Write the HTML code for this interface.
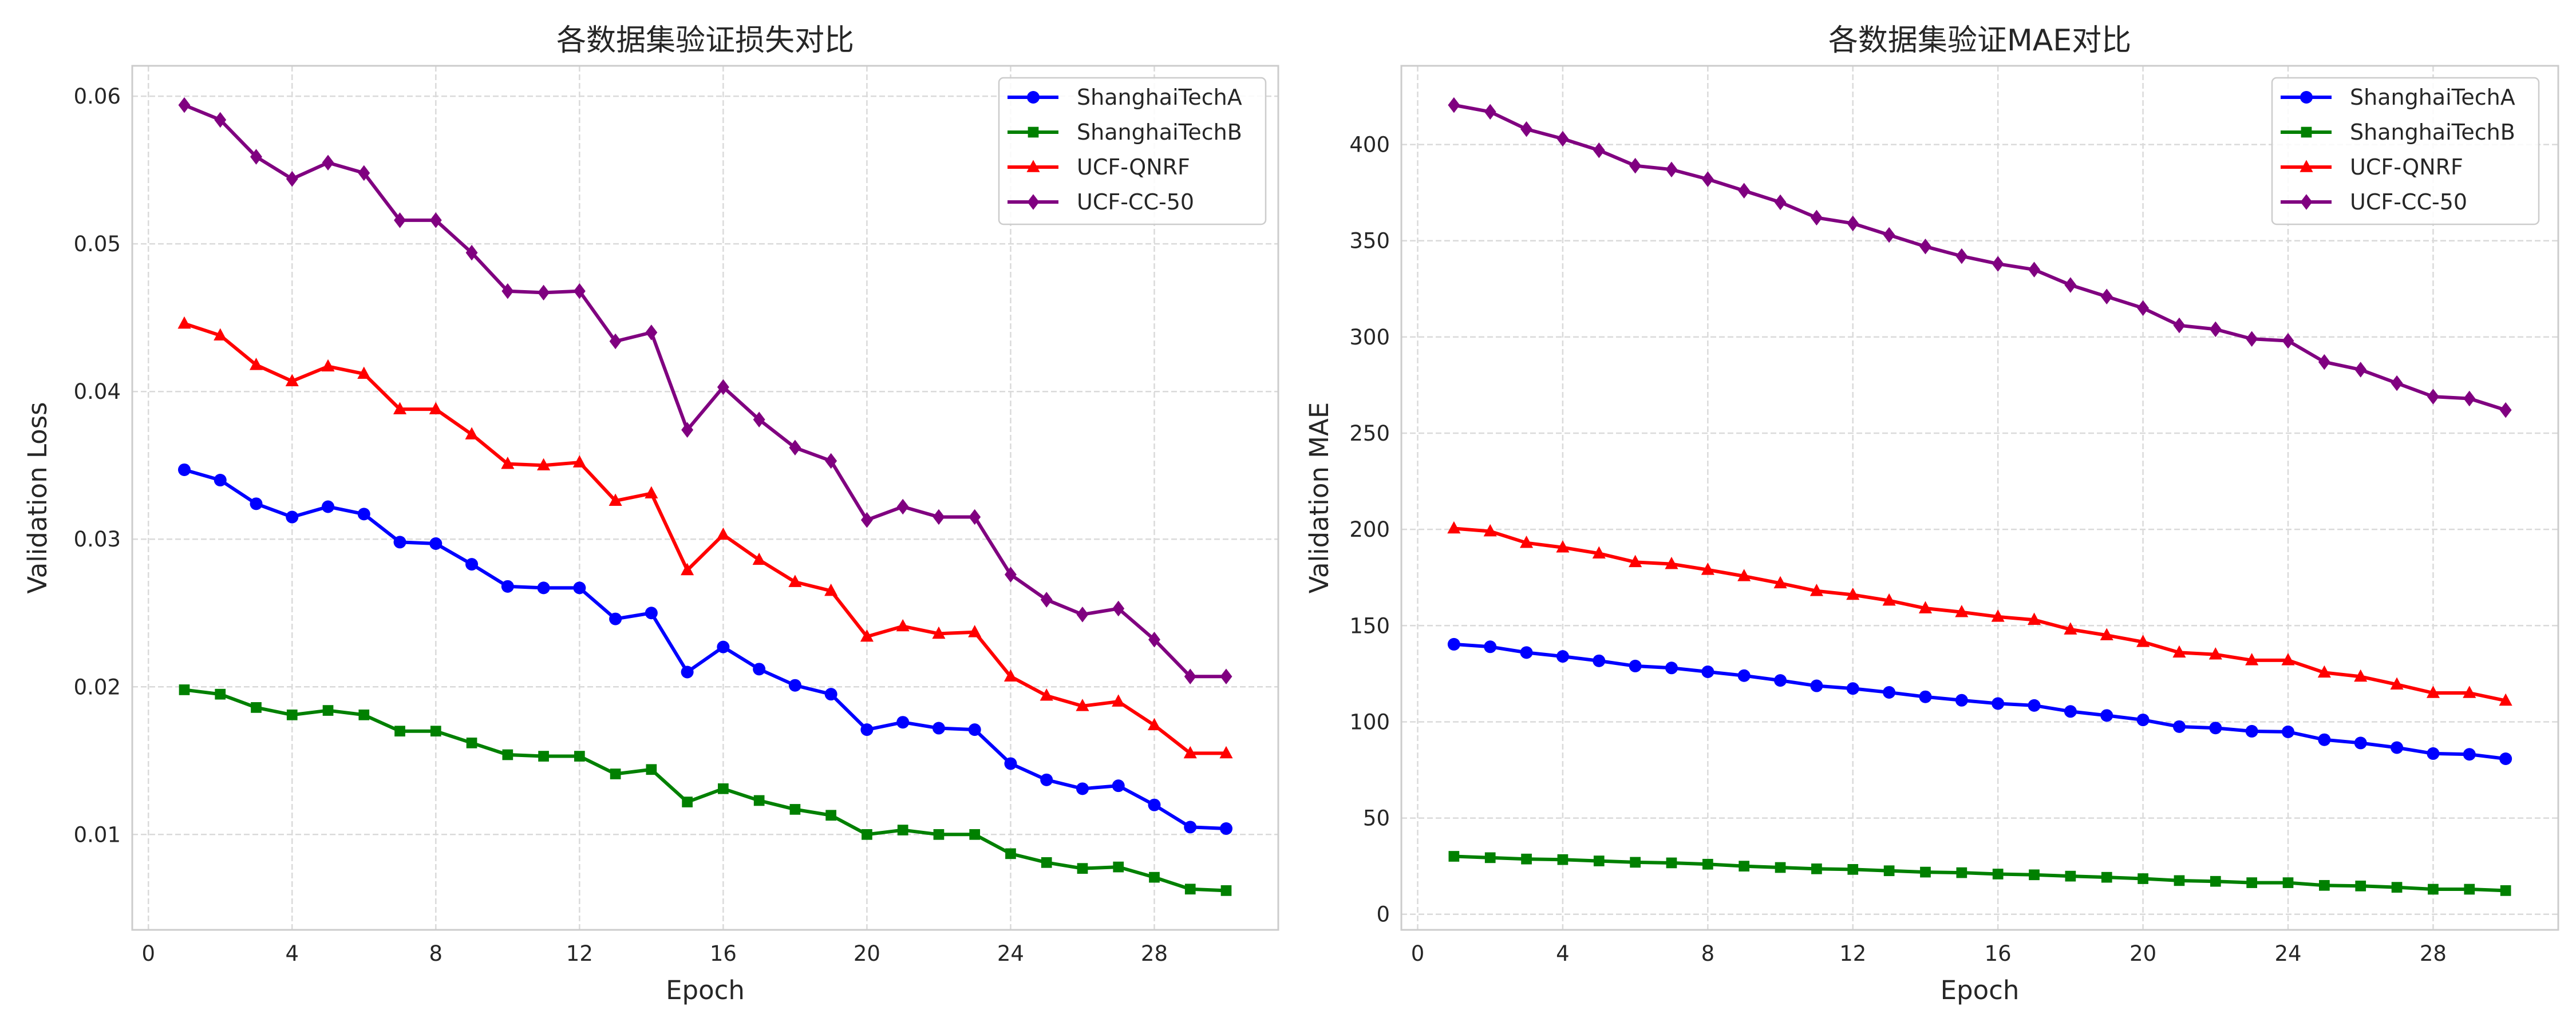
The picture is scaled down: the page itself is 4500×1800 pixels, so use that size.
<!DOCTYPE html>
<html><head><meta charset="utf-8"><style>
html,body{margin:0;padding:0;background:#fff;}
svg{display:block;}
text{font-family:"DejaVu Sans","Liberation Sans","Noto Sans CJK SC",sans-serif;fill:#262626;}
</style></head><body>
<svg id="fig" width="4500" height="1800" viewBox="0 0 4500 1800" xmlns="http://www.w3.org/2000/svg"></svg>
<script>
const epochs = Array.from({length:30},(_,i)=>i+1);
const seriesNames = ["ShanghaiTechA","ShanghaiTechB","UCF-QNRF","UCF-CC-50"];
const lossA = [0.0347,0.0340,0.0324,0.0315,0.0322,0.0317,0.0298,0.0297,0.0283,0.0268,0.0267,0.0267,0.0246,0.0250,0.0210,0.0227,0.0212,0.0201,0.0195,0.0171,0.0176,0.0172,0.0171,0.0148,0.0137,0.0131,0.0133,0.0120,0.0105,0.0104];
const lossB = [0.0198,0.0195,0.0186,0.0181,0.0184,0.0181,0.0170,0.0170,0.0162,0.0154,0.0153,0.0153,0.0141,0.0144,0.0122,0.0131,0.0123,0.0117,0.0113,0.0100,0.0103,0.0100,0.0100,0.0087,0.0081,0.0077,0.0078,0.0071,0.0063,0.0062];
const lossQ = [0.0446,0.0438,0.0418,0.0407,0.0417,0.0412,0.0388,0.0388,0.0371,0.0351,0.0350,0.0352,0.0326,0.0331,0.0279,0.0303,0.0286,0.0271,0.0265,0.0234,0.0241,0.0236,0.0237,0.0207,0.0194,0.0187,0.0190,0.0174,0.0155,0.0155];
const lossC = [0.0594,0.0584,0.0559,0.0544,0.0555,0.0548,0.0516,0.0516,0.0494,0.0468,0.0467,0.0468,0.0434,0.0440,0.0374,0.0403,0.0381,0.0362,0.0353,0.0313,0.0322,0.0315,0.0315,0.0276,0.0259,0.0249,0.0253,0.0232,0.0207,0.0207];
const maeA = [140.3,139,136,134,131.7,129,128,126,124,121.5,118.7,117.3,115.3,113,111.2,109.5,108.5,105.4,103.3,101,97.5,96.8,95.1,94.8,90.7,89,86.6,83.5,83.1,80.8];
const maeB = [30.1,29.4,28.7,28.4,27.7,27,26.7,26,25,24.3,23.6,23.3,22.6,21.9,21.6,20.9,20.5,19.8,19.2,18.5,17.5,17.1,16.4,16.4,15,14.7,14,13,13,12.3];
const maeQ = [200.5,199,193,190.6,187.5,183,182,179,175.7,172,168,166,163,159,157,154.6,153,148,145,141.5,136,135,132,132,125.6,123.5,119.4,115,115,111];
const maeC = [420.5,417,408,403,397,389,387,382,376,370,362,359,353,347,342,338,335,327,321,315,306,304,299,298,287,283,276,269,268,262];
const xTicks = [0,4,8,12,16,20,24,28];
const lossTicks = [0.01,0.02,0.03,0.04,0.05,0.06];
const lossTickLabels = ["0.01","0.02","0.03","0.04","0.05","0.06"];
const maeTicks = [0,50,100,150,200,250,300,350,400];
const maeTickLabels = ["0","50","100","150","200","250","300","350","400"];

const NS="http://www.w3.org/2000/svg";
const svg=document.getElementById('fig');
function mk(tag,attrs,parent){const e=document.createElementNS(NS,tag);for(const k in attrs)e.setAttribute(k,attrs[k]);(parent||svg).appendChild(e);return e;}
const colors=["#0000ff","#008000","#ff0000","#800080"];
const markers=["circle","square","triangle","diamond"];
function marker(g,type,x,y,c){
  const s=11;
  let m;
  if(type==="circle") m=mk('circle',{cx:x,cy:y,r:s,fill:c},g);
  else if(type==="square") m=mk('rect',{x:x-s*0.85,y:y-s*0.85,width:s*1.7,height:s*1.7,fill:c},g);
  else if(type==="triangle") m=mk('polygon',{points:`${x},${y-s*1.15} ${x-s*1.05},${y+s*0.8} ${x+s*1.05},${y+s*0.8}`,fill:c},g);
  else m=mk('polygon',{points:`${x},${y-s*1.25} ${x+s*0.95},${y} ${x},${y+s*1.25} ${x-s*0.95},${y}`,fill:c},g);
  return m;
}
function panel(opt){
  const {L,R,T,B,series,yTicks,yLabels,title,ylabel,legX,name,ylOff}=opt;
  const g=mk('g',{});
  
  
  const xmin=Math.min(...epochs),xmax=Math.max(...epochs),xm=(xmax-xmin)*0.05;
  const all=[].concat(...series);
  const ymin=Math.min(...all),ymax=Math.max(...all),ym=(ymax-ymin)*0.05;
  const X=v=>L+(v-(xmin-xm))/((xmax+xm)-(xmin-xm))*(R-L);
  const Y=v=>B-(v-(ymin-ym))/((ymax+ym)-(ymin-ym))*(B-T);
  const grid=mk('g',{},g);
  
  
  xTicks.forEach(t=>{
    const l=mk('line',{x1:X(t),x2:X(t),y1:T,y2:B,stroke:'#dadada','stroke-width':2.5,'stroke-dasharray':'10,5'},grid);
    
    
    const tx=mk('text',{x:X(t),y:B+54,'font-size':37,'text-anchor':'middle'},g);
    tx.textContent=t;
    
    
  });
  yTicks.forEach((t,i)=>{
    const l=mk('line',{x1:L,x2:R,y1:Y(t),y2:Y(t),stroke:'#dadada','stroke-width':2.5,'stroke-dasharray':'10,5'},grid);
    
    
    const tx=mk('text',{x:L-20,y:Y(t)+13,'font-size':37,'text-anchor':'end'},g);
    tx.textContent=yLabels[i];
    
    
  });
  const frame=mk('rect',{x:L,y:T,width:R-L,height:B-T,fill:'none',stroke:'#cccccc','stroke-width':3},g);
  
  
  series.forEach((d,si)=>{
    const sg=mk('g',{},g);
    
    
    const p=mk('polyline',{points:d.map((v,i)=>X(epochs[i])+','+Y(v)).join(' '),fill:'none',stroke:colors[si],'stroke-width':6,'stroke-linejoin':'round'},sg);
    
    
    d.forEach((v,i)=>{
      const m=marker(sg,markers[si],X(epochs[i]),Y(v),colors[si]);
      
      
    });
  });
  const tt=mk('text',{x:(L+R)/2,y:88,'font-size':52,'text-anchor':'middle'},g);
  tt.textContent=title;
  
  
  const xl=mk('text',{x:(L+R)/2,y:1746,'font-size':45,'text-anchor':'middle'},g);
  xl.textContent='Epoch';
  
  
  const yl=mk('text',{x:0,y:0,'font-size':45,'text-anchor':'middle',transform:`translate(${L-ylOff},${(T+B)/2}) rotate(-90)`},g);
  yl.textContent=ylabel;
  
  
  const lg=mk('g',{},g);
  
  
  mk('rect',{x:legX,y:136,width:466,height:256,rx:8,fill:'#ffffff','fill-opacity':0.85,stroke:'#cccccc','stroke-width':2.5},lg);
  seriesNames.forEach((n,si)=>{
    const yy=170+si*61;
    const e=mk('g',{},lg);
    
    
    mk('line',{x1:legX+15,x2:legX+104,y1:yy,y2:yy,stroke:colors[si],'stroke-width':6},e);
    marker(e,markers[si],legX+60,yy,colors[si]);
    const t=mk('text',{x:legX+136,y:yy+13,'font-size':38},e);
    t.textContent=n;
  });
}
panel({L:231,R:2233,T:115,B:1625,series:[lossA,lossB,lossQ,lossC],yTicks:lossTicks,yLabels:lossTickLabels,title:'各数据集验证损失对比',ylabel:'Validation Loss',legX:1745,name:'loss-chart',ylOff:150});
panel({L:2448,R:4469,T:115,B:1625,series:[maeA,maeB,maeQ,maeC],yTicks:maeTicks,yLabels:maeTickLabels,title:'各数据集验证MAE对比',ylabel:'Validation MAE',legX:3969,name:'mae-chart',ylOff:128});
</script>
</body></html>
